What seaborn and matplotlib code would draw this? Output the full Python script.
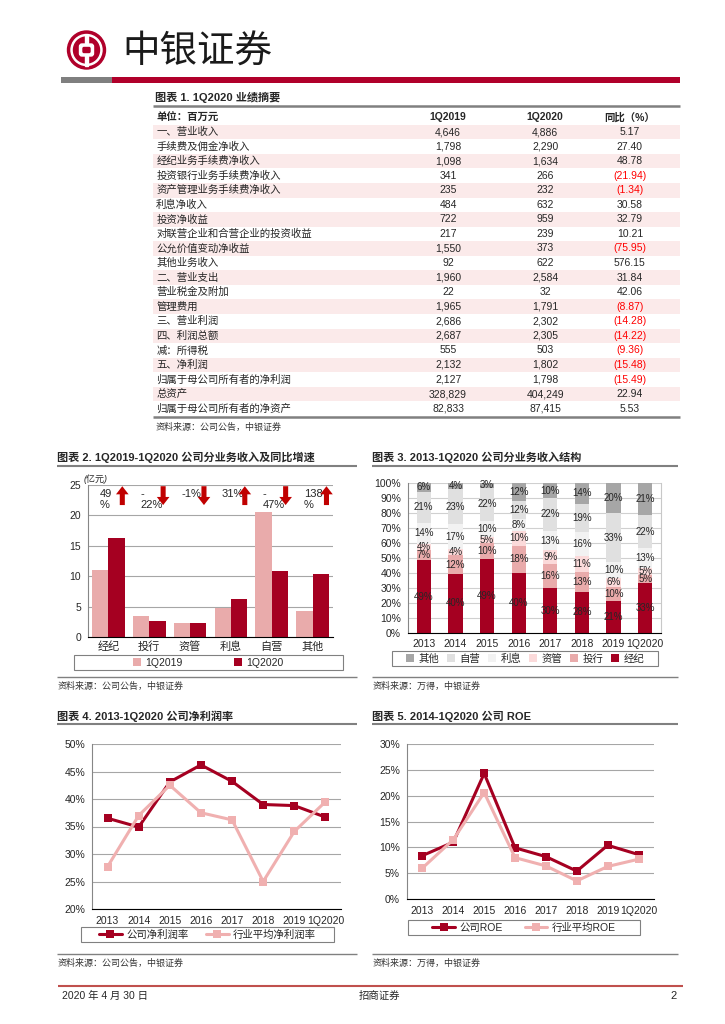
import numpy as np
import pandas as pd
import seaborn as sns
import matplotlib.pyplot as plt
from matplotlib.patches import Circle, Rectangle, FancyBboxPatch
from matplotlib.lines import Line2D
from matplotlib.ticker import PercentFormatter

# ---- table 1 data ----
table_items = [
    "一、营业收入", "手续费及佣金净收入", "经纪业务手续费净收入", "投资银行业务手续费净收入",
    "资产管理业务手续费净收入", "利息净收入", "投资净收益", "对联营企业和合营企业的投资收益",
    "公允价值变动净收益", "其他业务收入", "二、营业支出", "营业税金及附加", "管理费用",
    "三、营业利润", "四、利润总额", "减：所得税", "五、净利润", "归属于母公司所有者的净利润",
    "总资产", "归属于母公司所有者的净资产",
]
t_1q2019 = [4646, 1798, 1098, 341, 235, 484, 722, 217, 1550, 92, 1960, 22, 1965,
            2686, 2687, 555, 2132, 2127, 328829, 82833]
t_1q2020 = [4886, 2290, 1634, 266, 232, 632, 959, 239, 373, 622, 2584, 32, 1791,
            2302, 2305, 503, 1802, 1798, 404249, 87415]
t_yoy = [5.17, 27.40, 48.78, -21.94, -1.34, 30.58, 32.79, 10.21, -75.95, 576.15, 31.84,
         42.06, -8.87, -14.28, -14.22, -9.36, -15.48, -15.49, 22.94, 5.53]

# ---- chart 2 data (亿元) ----
seg_names = ["经纪", "投行", "资管", "利息", "自营", "其他"]
rev_1q2019 = [10.98, 3.41, 2.35, 4.84, 20.55, 4.33]
rev_1q2020 = [16.34, 2.66, 2.32, 6.32, 10.93, 10.29]
growth_text = ["49\n%", "-\n22%", "-1%", "31%", "-\n47%", "138\n%"]
growth_up = [True, False, False, True, False, True]

# ---- chart 3 data (%) ----
years = ["2013", "2014", "2015", "2016", "2017", "2018", "2019", "1Q2020"]
mix_names = ["经纪", "投行", "资管", "利息", "自营", "其他"]
mix_broker = [48.6, 39.6, 49.3, 40.0, 29.8, 27.6, 21.1, 33.4]
mix_ib = [6.8, 12.1, 10.4, 18.2, 16.4, 12.9, 9.8, 5.4]
mix_am = [3.9, 4.0, 4.6, 10.1, 8.9, 10.8, 6.0, 4.7]
mix_int = [14.3, 17.0, 10.2, 7.9, 13.1, 16.2, 10.2, 12.9]
mix_prop = [20.6, 23.1, 22.4, 11.8, 21.7, 18.8, 32.9, 22.4]
mix_other = [5.8, 4.2, 3.1, 12.0, 10.1, 13.7, 20.0, 21.2]

# ---- chart 4 / 5 data (%) ----
margin_company = [36.5, 34.9, 43.1, 46.2, 43.2, 39.0, 38.8, 36.7]
margin_industry = [27.7, 37.0, 42.5, 37.5, 36.2, 25.0, 34.1, 39.5]
roe_company = [8.4, 11.0, 24.3, 9.9, 8.2, 5.4, 10.4, 8.6]
roe_industry = [6.0, 11.5, 20.6, 8.0, 6.4, 3.5, 6.3, 7.7]

W, H = 725, 1024
RED = "#a50021"
PINK = "#e9abab"
LINE_PINK = "#f0b0b0"
MIX_COLORS = [RED, PINK, "#fbdada", "#f2f2f2", "#e0e0e0", "#a6a6a6"]
ARROW = "#c00000"
GRID = "#a6a6a6"
RULE = "#808080"
SHADE = "#fbeaea"
FONTS = ["Liberation Sans Narrow", "Liberation Sans", "Noto Sans CJK SC"]

sns.set_style("white")
plt.rcParams["font.family"] = FONTS
plt.rcParams["axes.unicode_minus"] = False

fig = plt.figure(figsize=(7.25, 10.24), dpi=100)


def px_axes(x0, y0, x1, y1):
    return fig.add_axes([x0 / W, 1 - y1 / H, (x1 - x0) / W, (y1 - y0) / H])


# page layer in pixel coordinates
page = fig.add_axes([0, 0, 1, 1])
page.set_xlim(0, W)
page.set_ylim(H, 0)
page.axis("off")


def hline(y, x0, x1, color=RULE, lw=1.5):
    page.plot([x0, x1], [y, y], color=color, lw=lw, solid_capstyle="butt")


def txt(x, y, s, **kw):
    kw.setdefault("va", "center")
    kw.setdefault("fontsize", 8)
    page.text(x, y, s, **kw)


# header with logo
LOGO_RED = "#b0002a"
page.add_patch(Circle((86.5, 50), 19, color=LOGO_RED))
page.add_patch(Circle((86.5, 50), 15.5, color="white"))
page.add_patch(Circle((86.5, 50), 13, color=LOGO_RED))
page.add_patch(Rectangle((85, 34.5), 3, 31, color="white"))
page.add_patch(FancyBboxPatch((79.5, 44), 14, 12, boxstyle="round,pad=0,rounding_size=2.5", color="white"))
page.add_patch(FancyBboxPatch((83, 47.5), 7, 5, boxstyle="round,pad=0,rounding_size=1", color=LOGO_RED))
txt(122, 52, "中银证券", fontsize=27, color="#1a1a1a", family=["Noto Sans CJK SC"])
page.add_patch(Rectangle((61, 77), 51, 6, color="#7f7f7f", lw=0))
page.add_patch(Rectangle((112, 77), 568, 6, color=LOGO_RED, lw=0))

# ---- table 1 ----
txt(155, 97.5, "图表 1. 1Q2020 业绩摘要", fontweight="bold")
hline(106, 153, 680, lw=1.8)
row0, step = 132.0, 14.56
axt = px_axes(153, row0 - 1.5 * step, 680, row0 + 19.5 * step)
axt.set_xlim(0, 1)
axt.set_ylim(len(table_items) - 0.5, -1.5)
axt.axis("off")
col_x = [0.006, 0.560, 0.744, 0.905]
for j, head in enumerate(["单位：百万元", "1Q2019", "1Q2020", "同比（%）"]):
    axt.text(col_x[j], -1, head, ha="left" if j == 0 else "center", va="center",
             fontsize=7.5, fontweight="bold")
for i, item in enumerate(table_items):
    if i % 2 == 0:
        axt.axhspan(i - 0.5, i + 0.5, color=SHADE, lw=0)
    axt.text(col_x[0], i, item, ha="left", va="center", fontsize=7.5, family=["Noto Sans CJK SC"])
    axt.text(col_x[1], i, f"{t_1q2019[i]:,}", ha="center", va="center", fontsize=7.5)
    axt.text(col_x[2], i, f"{t_1q2020[i]:,}", ha="center", va="center", fontsize=7.5)
    v = t_yoy[i]
    if v < 0:
        axt.text(col_x[3], i, f"({abs(v):.2f})", ha="center", va="center", fontsize=7.5, color="red")
    else:
        axt.text(col_x[3], i, f"{v:.2f}", ha="center", va="center", fontsize=7.5)
hline(416.8, 153, 680, lw=1.8)
txt(156, 427, "资料来源：公司公告，中银证券", fontsize=6.5, color="#333333", style="italic")


def cat_axis(ax, n, fontsize=7.5):
    ax.set_xlim(-0.5, n - 0.5)
    ax.set_xticks(np.arange(-0.5, n, 1.0), minor=True)
    ax.tick_params(axis="x", which="minor", length=4, width=0.8, color="black", direction="out")
    ax.tick_params(axis="x", which="major", length=0, pad=4, labelsize=fontsize)
    ax.tick_params(axis="y", length=0, pad=5, labelsize=7.5)
    ax.spines["bottom"].set_color("black")
    ax.spines["bottom"].set_linewidth(0.8)
    ax.spines["left"].set_color("#868686")
    ax.spines["left"].set_linewidth(0.8)
    ax.spines["top"].set_visible(False)
    ax.spines["right"].set_visible(False)
    ax.yaxis.grid(True, color=GRID, lw=0.8)
    ax.set_axisbelow(True)
    ax.set_xlabel("")
    ax.set_ylabel("")


def legend_box(x0, y0, x1, y1, handles, labels, spacing, handlelength=0.8):
    page.add_patch(Rectangle((x0, y0), x1 - x0, y1 - y0, fill=False, ec=RULE, lw=0.8))
    fig.legend(handles, labels, loc="center", bbox_to_anchor=((x0 + x1) / 2 / W, 1 - (y0 + y1) / 2 / H),
               ncol=len(labels), frameon=False, columnspacing=spacing,
               handlelength=handlelength, handletextpad=0.4, borderpad=0,
               prop={"family": FONTS, "size": 7.5})


# ---- chart 2 ----
txt(57, 457, "图表 2. 1Q2019-1Q2020 公司分业务收入及同比增速", fontweight="bold")
hline(466, 57, 357)
ax2 = px_axes(88, 485, 333, 637)
df2 = pd.DataFrame({
    "业务": seg_names * 2,
    "收入": rev_1q2019 + rev_1q2020,
    "期间": ["1Q2019"] * len(seg_names) + ["1Q2020"] * len(seg_names),
})
sns.barplot(data=df2, x="业务", y="收入", hue="期间", palette=[PINK, RED], width=0.8,
            saturation=1, linewidth=0, legend=False, ax=ax2)
ax2.set_ylim(0, 25)
ax2.set_yticks(range(0, 26, 5))
cat_axis(ax2, len(seg_names), fontsize=8)
ax2.tick_params(axis="x", which="major", pad=3)
for i, (lab, up) in enumerate(zip(growth_text, growth_up)):
    ax2.text(i - 0.22, 24.3, lab, ha="left", va="top", fontsize=8, linespacing=1.15)
    tail, head = (21.7, 24.8) if up else (24.8, 21.7)
    ax2.annotate("", xy=(i + 0.34, head), xytext=(i + 0.34, tail),
                 arrowprops=dict(arrowstyle="simple,head_length=0.45,head_width=0.7,tail_width=0.28",
                                 color=ARROW, lw=0, shrinkA=0, shrinkB=0, mutation_scale=13))
txt(84, 479, "(亿元)", fontsize=6.5, style="italic")
sq = dict(marker="s", linestyle="none", markersize=5.5, markeredgewidth=0)
legend_box(74, 655, 343, 670,
           [Line2D([], [], color=PINK, **sq), Line2D([], [], color=RED, **sq)],
           ["1Q2019", "1Q2020"], spacing=4.9)
hline(677, 57, 357, lw=1)
txt(58, 686, "资料来源：公司公告，中银证券", fontsize=6.5, color="#333333", style="italic")

# ---- chart 3 ----
txt(372, 457, "图表 3. 2013-1Q2020 公司分业务收入结构", fontweight="bold")
hline(466, 372, 678)
ax3 = px_axes(408, 483, 661, 633)
layers = [mix_broker, mix_ib, mix_am, mix_int, mix_prop, mix_other]
bottom = np.zeros(len(years))
xpos = np.arange(len(years))
for vals, color in zip(layers, MIX_COLORS):
    vals = np.array(vals)
    ax3.bar(xpos, vals, bottom=bottom, width=0.45, color=color, lw=0)
    for xi, b, v in zip(xpos, bottom, vals):
        ax3.text(xi, b + v / 2, f"{v:.0f}%", ha="center", va="center", fontsize=7)
    bottom = bottom + vals
ax3.set_xticks(xpos)
ax3.set_xticklabels(years)
ax3.set_ylim(0, 100)
ax3.set_yticks(range(0, 101, 10))
ax3.yaxis.set_major_formatter(PercentFormatter(xmax=100, decimals=0))
cat_axis(ax3, len(years))
ax3.yaxis.grid(True, color="#d0d0d0", lw=0.8)
ax3.spines["right"].set_visible(True)
ax3.spines["right"].set_color("#c8c8c8")
legend_box(392, 651, 658, 666,
           [Line2D([], [], color=c, **sq) for c in MIX_COLORS[::-1]],
           mix_names[::-1], spacing=0.75)
hline(677, 372, 678, lw=1)
txt(373, 686, "资料来源：万得，中银证券", fontsize=6.5, color="#333333", style="italic")


def line_chart(ax, comp, ind, lo, hi):
    df = pd.DataFrame({"年份": years, "公司": comp, "行业": ind})
    sns.lineplot(data=df, x="年份", y="公司", sort=False, color=RED, lw=2.2, marker="s",
                 markersize=6, markeredgewidth=0, ax=ax)
    sns.lineplot(data=df, x="年份", y="行业", sort=False, color=LINE_PINK, lw=2.2, marker="s",
                 markersize=6, markeredgewidth=0, ax=ax)
    ax.set_ylim(lo, hi)
    ax.set_yticks(range(lo, hi + 1, 5))
    ax.yaxis.set_major_formatter(PercentFormatter(xmax=100, decimals=0))
    cat_axis(ax, len(years))
    ax.tick_params(axis="x", which="major", pad=5)


lk = dict(marker="s", markersize=6, markeredgewidth=0, lw=2.2)

# ---- chart 4 ----
txt(57, 716, "图表 4. 2013-1Q2020 公司净利润率", fontweight="bold")
hline(724, 57, 357)
ax4 = px_axes(92, 744, 341, 909)
line_chart(ax4, margin_company, margin_industry, 20, 50)
legend_box(81, 927, 334, 942,
           [Line2D([], [], color=RED, **lk), Line2D([], [], color=LINE_PINK, **lk)],
           ["公司净利润率", "行业平均净利润率"], spacing=1.7, handlelength=2.2)
hline(954, 57, 357, lw=1)
txt(58, 963, "资料来源：公司公告，中银证券", fontsize=6.5, color="#333333", style="italic")

# ---- chart 5 ----
txt(372, 716, "图表 5. 2014-1Q2020 公司 ROE", fontweight="bold")
hline(724, 372, 678)
ax5 = px_axes(407, 744, 654, 899)
line_chart(ax5, roe_company, roe_industry, 0, 30)
legend_box(408, 920, 640, 935,
           [Line2D([], [], color=RED, **lk), Line2D([], [], color=LINE_PINK, **lk)],
           ["公司ROE", "行业平均ROE"], spacing=2.1, handlelength=2.2)
hline(954, 372, 678, lw=1)
txt(373, 963, "资料来源：万得，中银证券", fontsize=6.5, color="#333333", style="italic")

# ---- footer ----
hline(986, 58, 683, color="#c0504d", lw=1.5)
txt(62, 996, "2020 年 4 月 30 日", fontsize=7.5)
txt(379, 996, "招商证券", fontsize=7.5, ha="center")
txt(677, 996, "2", fontsize=8, ha="right")

fig.savefig("out.png", dpi=100)
